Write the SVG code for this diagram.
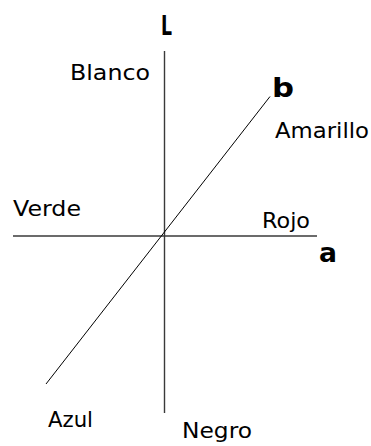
<svg xmlns="http://www.w3.org/2000/svg" width="371" height="446" viewBox="0 0 371 446">
<style>
.axis{stroke:#3a3a3a;stroke-width:1.4;fill:none}
.diag{stroke:#000;stroke-width:1;fill:none}
.lbl{font-family:"DejaVu Sans","Liberation Sans",sans-serif;font-size:22px;fill:#000}
.ax{font-family:"DejaVu Sans","Liberation Sans",sans-serif;font-size:27px;font-weight:bold;fill:#000}
</style>
<rect width="371" height="446" fill="#fff"/>
<g id="connectors">
<line class="axis" x1="164.5" y1="51" x2="164.5" y2="413"/>
<line class="axis" x1="13" y1="236" x2="317" y2="236"/>
<line class="diag" x1="270" y1="96.5" x2="46" y2="384"/>
</g>
<g id="axis-L"><text class="ax" x="161" y="35" textLength="11" lengthAdjust="spacingAndGlyphs">L</text></g>
<g id="axis-b"><text class="ax" x="272" y="97" textLength="22" lengthAdjust="spacingAndGlyphs">b</text></g>
<g id="axis-a"><text class="ax" x="319" y="262" textLength="18" lengthAdjust="spacingAndGlyphs">a</text></g>
<g id="blanco"><text class="lbl" x="70" y="80" textLength="80" lengthAdjust="spacingAndGlyphs">Blanco</text></g>
<g id="amarillo"><text class="lbl" x="275" y="138" textLength="94" lengthAdjust="spacingAndGlyphs">Amarillo</text></g>
<g id="verde"><text class="lbl" x="13" y="216" textLength="68" lengthAdjust="spacingAndGlyphs">Verde</text></g>
<g id="rojo"><text class="lbl" x="262" y="228" textLength="48" lengthAdjust="spacingAndGlyphs">Rojo</text></g>
<g id="azul"><text class="lbl" x="48" y="427" textLength="45" lengthAdjust="spacingAndGlyphs">Azul</text></g>
<g id="negro"><text class="lbl" x="182" y="438" textLength="70" lengthAdjust="spacingAndGlyphs">Negro</text></g>
</svg>
